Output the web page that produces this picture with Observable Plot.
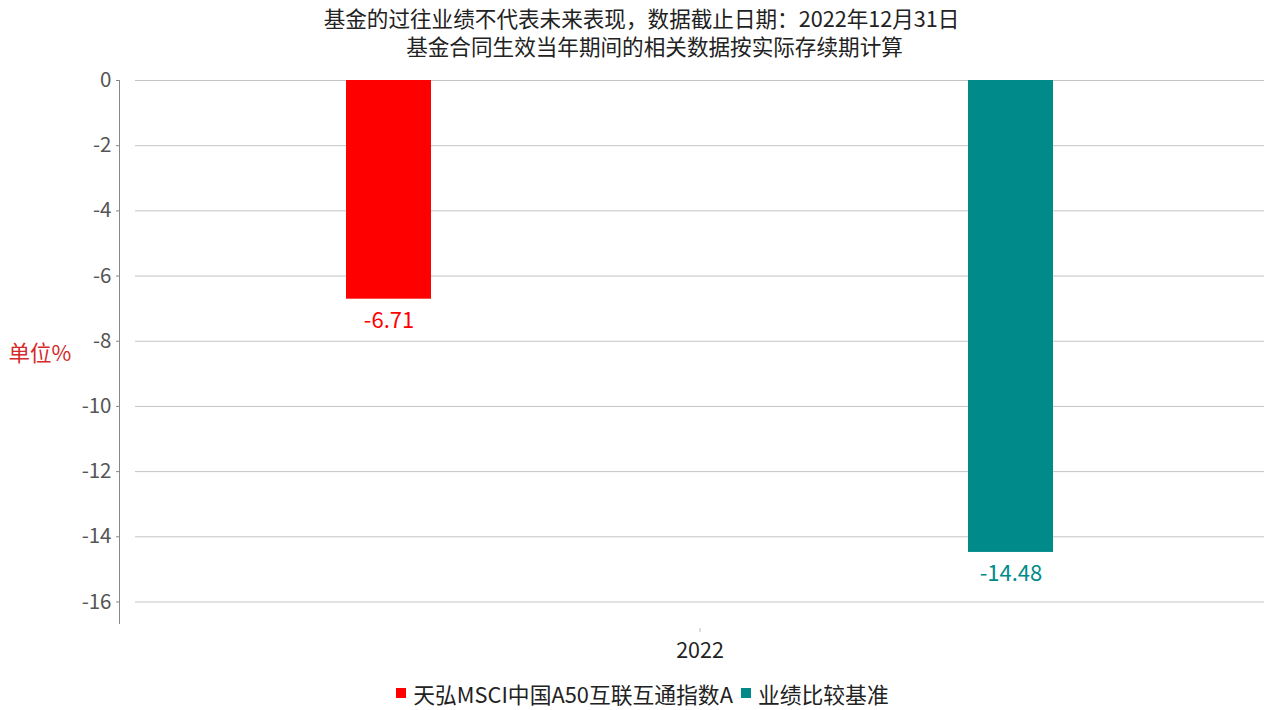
<!DOCTYPE html>
<html><head><meta charset="utf-8">
<script src="https://cdn.jsdelivr.net/npm/d3@7"></script>
<script src="https://cdn.jsdelivr.net/npm/@observablehq/plot@0.6"></script>
<style>
body{margin:0;background:#fff;font-family:"Noto Sans CJK SC","Noto Sans",sans-serif;}
#title{height:62px;box-sizing:border-box;padding-top:4px;text-align:center;font-size:21.6px;line-height:28px;color:#222;}
#title .l0{padding-left:18px;}
#title .l1{padding-left:44px;}
#legend{height:38px;display:flex;justify-content:center;align-items:center;font-size:21.8px;color:#222;padding-top:4px;padding-left:20px;box-sizing:border-box;}
#legend .it{display:flex;align-items:center;margin:0 4px;}
#legend .sw{width:10px;height:10px;margin-right:7px;}
</style></head>
<body>
<div id="title"></div>
<div id="chart"></div>
<div id="legend"></div>
<script>
const titleLines = ["基金的过往业绩不代表未来表现，数据截止日期：2022年12月31日", "基金合同生效当年期间的相关数据按实际存续期计算"];
const years = ["2022"];
const series = ["天弘MSCI中国A50互联互通指数A", "业绩比较基准"];
const values = [-6.71, -14.48];
const colors = ["#ff0000", "#008b8a"];
const yTicks = [0, -2, -4, -6, -8, -10, -12, -14, -16];
const unitLabel = "单位%";

document.getElementById("title").innerHTML = titleLines.map((t, i) => `<div class="l${i}">${t}</div>`).join("");

const data = series.map((s, i) => ({year: years[0], series: s, value: values[i]}));

const chart = Plot.plot({
  width: 1265, height: 610,
  marginTop: 18, marginLeft: 135, marginRight: 1, marginBottom: 49,
  style: {fontFamily: "'Noto Sans CJK SC','Noto Sans',sans-serif", fontSize: "20px", background: "#fff"},
  fx: {padding: 0, label: null, axis: null},
  x: {domain: series, paddingInner: 0.8633, paddingOuter: 0.339, axis: null},
  y: {domain: [-16.66, 0], label: null, axis: null},
  color: {domain: series, range: colors},
  marks: [
    Plot.gridY(yTicks, {stroke: "#c4c4c4", strokeOpacity: 1}),
    Plot.barY(data, {fx: "year", x: "series", y: "value", fill: "series"}),
    Plot.text(data, {fx: "year", x: "series", y: "value", text: d => d.value.toFixed(2), fill: "series", dy: 22, fontSize: 22}),
    Plot.axisY(yTicks, {dx: -16, tickSize: 3, tickPadding: 5, stroke: "#888", fill: "#555", fontSize: 20.5, tickFormat: d => String(d)}),
    Plot.frame({anchor: "left", dx: -16, stroke: "#888"}),
    Plot.axisFx(years, {anchor: "bottom", tickSize: 4, dy: 5, tickPadding: 10, stroke: "#bbb", fill: "#222", fontSize: 21.5, label: null}),
    Plot.text([unitLabel], {frameAnchor: "left", textAnchor: "start", dx: -127, dy: 2, fill: "#d42a2a", fontSize: 21.5})
  ]
});
document.getElementById("chart").appendChild(chart);

document.getElementById("legend").innerHTML = series.map((s, i) =>
  `<div class="it"><div class="sw" style="background:${colors[i]}"></div><span>${s}</span></div>`).join("");
</script>
</body></html>
